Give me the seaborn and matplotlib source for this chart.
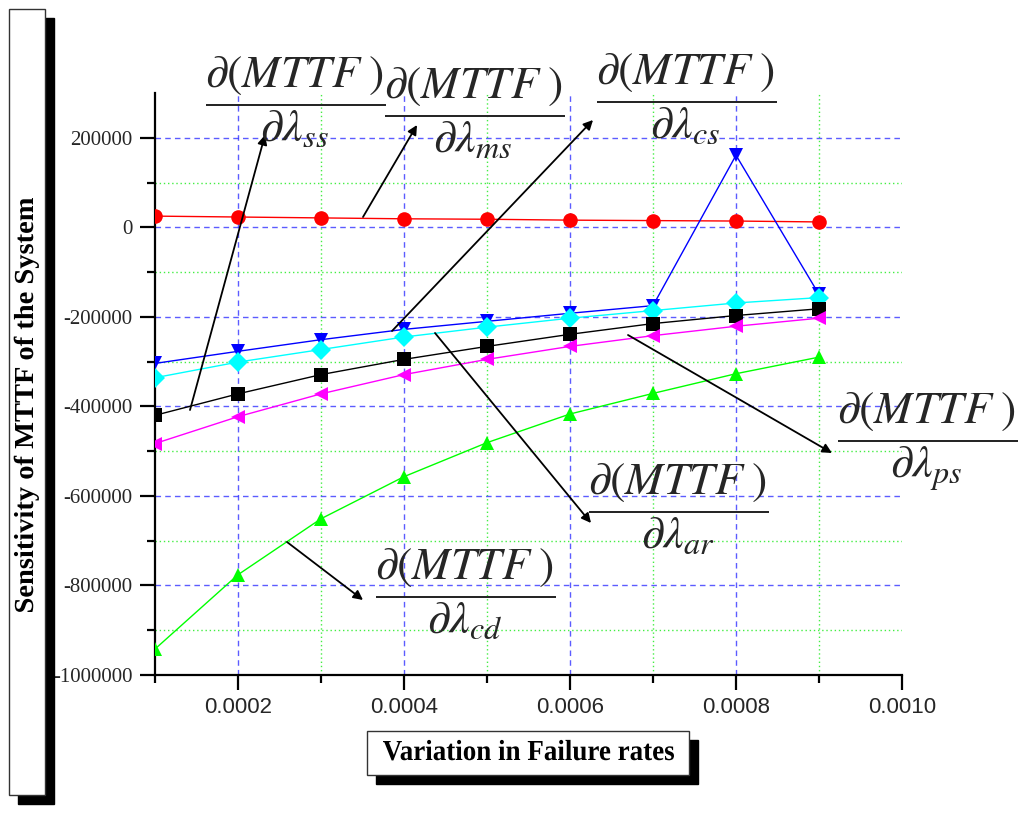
import numpy as np
import pandas as pd
import seaborn as sns
import matplotlib
matplotlib.use("Agg")
import matplotlib.pyplot as plt
from matplotlib.ticker import FixedLocator, FuncFormatter
from matplotlib.textpath import TextPath
from matplotlib.font_manager import FontProperties
from matplotlib.patches import PathPatch, Rectangle
from matplotlib.transforms import Affine2D

# failure rate values on the x axis
rates = [0.0001, 0.0002, 0.0003, 0.0004, 0.0005, 0.0006, 0.0007, 0.0008, 0.0009]

# sensitivity of MTTF for each component
sens_ms = [25000, 23000, 21000, 19000, 18000, 16000, 15000, 14000, 12000]
sens_cs = [-304000, -277000, -251000, -228000, -210000, -192000, -175000, 161000, -150000]
sens_ar = [-336000, -301000, -273000, -245000, -223000, -203000, -186000, -169000, -157000]
sens_ss = [-420000, -372000, -329000, -295000, -266000, -239000, -215000, -197000, -182000]
sens_ps = [-483000, -423000, -372000, -329000, -295000, -266000, -242000, -221000, -203000]
sens_cd = [-942000, -776000, -651000, -557000, -481000, -417000, -371000, -327000, -290000]

series = {"ms": sens_ms, "cs": sens_cs, "ar": sens_ar,
          "ss": sens_ss, "ps": sens_ps, "cd": sens_cd}
colors = {"ms": "#ff0000", "cs": "#0000ff", "ar": "#00ffff",
          "ss": "#000000", "ps": "#ff00ff", "cd": "#00ff00"}
markers = {"ms": "o", "cs": "v", "ar": "D", "ss": "s", "ps": "<", "cd": "^"}

x_ticks = [0.0002, 0.0004, 0.0006, 0.0008, 0.0010]
y_ticks = [-1000000, -800000, -600000, -400000, -200000, 0, 200000]

rows = []
for name, vals in series.items():
    for r, v in zip(rates, vals):
        rows.append({"rate": r, "sens": v, "comp": name})
df = pd.DataFrame(rows)

sns.set_style("white")
plt.rcParams["mathtext.fontset"] = "stix"
W, H, DPI = 1025, 814, 100
fig = plt.figure(figsize=(W / DPI, H / DPI), dpi=DPI)
pix = Affine2D().scale(1 / DPI) + fig.dpi_scale_trans


def box(x0, y0, x1, y1, shadow=9):
    # y given in image coords (top = 0)
    fig.add_artist(Rectangle((x0 + shadow, H - y1 - shadow), x1 - x0, y1 - y0,
                             facecolor="black", edgecolor="black", transform=pix))
    fig.add_artist(Rectangle((x0, H - y1), x1 - x0, y1 - y0, facecolor="white",
                             edgecolor="#333333", lw=1, transform=pix))


def squeezed(s, x, y_img, length, cap, rotate=False):
    fp = FontProperties(family="Liberation Serif", weight="bold")
    tp = TextPath((0, 0), s, size=100, prop=fp)
    ext = tp.get_extents()
    cap_h = TextPath((0, 0), "H", size=100, prop=fp).get_extents().y1
    tr = Affine2D().translate(-ext.x0, 0).scale(length / ext.width, cap / cap_h)
    if rotate:
        tr = tr.rotate_deg(90)
    tr = tr.translate(x, H - y_img)
    fig.add_artist(PathPatch(tp, facecolor="black", edgecolor="none", transform=tr + pix))


ax = fig.add_axes([155 / W, (H - 675) / H, (902 - 155) / W, (675 - 93) / H])

# grid
for v in [0.0002, 0.0004, 0.0006, 0.0008]:
    ax.axvline(v, color="#3333ff", ls=(0, (4, 3)), lw=1, alpha=0.8, zorder=0)
for v in [0.0003, 0.0005, 0.0007, 0.0009]:
    ax.axvline(v, color="#44ee44", ls=(0, (1, 2)), lw=1, zorder=0)
for v in [-800000, -600000, -400000, -200000, 0, 200000]:
    ax.axhline(v, color="#3333ff", ls=(0, (4, 3)), lw=1, alpha=0.8, zorder=0)
for v in [-900000, -700000, -500000, -300000, -100000, 100000]:
    ax.axhline(v, color="#44ee44", ls=(0, (1, 2)), lw=1, zorder=0)

sns.lineplot(data=df, x="rate", y="sens", hue="comp", style="comp",
             palette=colors, markers=markers, dashes=False, legend=False,
             lw=1, markersize=10.5, markeredgewidth=0, ax=ax, zorder=3)

ax.set_xlim(0.0001, 0.0010)
ax.set_ylim(-1000000, 300000)
ax.set_xlabel("")
ax.set_ylabel("")
for side in ["top", "right"]:
    ax.spines[side].set_visible(False)
for side in ["left", "bottom"]:
    ax.spines[side].set_linewidth(1.6)
    ax.spines[side].set_color("black")

ax.xaxis.set_major_locator(FixedLocator(x_ticks))
ax.xaxis.set_minor_locator(FixedLocator([0.0001, 0.0003, 0.0005, 0.0007, 0.0009]))
ax.yaxis.set_major_locator(FixedLocator(y_ticks))
ax.yaxis.set_minor_locator(FixedLocator([-900000, -700000, -500000, -300000, -100000, 100000]))
ax.xaxis.set_major_formatter(FuncFormatter(lambda v, p: f"{v:.4f}"))
ax.yaxis.set_major_formatter(FuncFormatter(lambda v, p: str(int(round(v)))))
ax.tick_params(which="both", bottom=True, left=True, direction="out",
               width=1.6, color="black")
ax.tick_params(which="major", length=11)
ax.tick_params(which="minor", length=6)
ax.tick_params(axis="x", which="major", pad=5, labelsize=16,
               labelfontfamily="Liberation Sans")
ax.tick_params(axis="y", which="major", pad=5, labelsize=15,
               labelfontfamily="Liberation Serif")

# axis titles in shadowed boxes
box(9, 9, 45, 795)
squeezed("Sensitivity of MTTF of the System", 33, 612, 414, 18, rotate=True)
box(367, 731, 689, 775)
squeezed("Variation in Failure rates", 383, 760, 291, 19)

# derivative labels with arrows
labels = [
    ("ss", (295, 105), (190, 410), (265, 135)),
    ("ms", (474, 116), (363, 217), (417, 125)),
    ("cs", (686, 102), (392, 331), (593, 120)),
    ("ps", (927, 443), (628, 335), (832, 453)),
    ("ar", (678, 512), (435, 333), (591, 523)),
    ("cd", (465, 597), (287, 542), (363, 600)),
]
for sub, (tx, ty), tail, tip in labels:
    fig.text(tx / W, (H - ty - 7) / H,
             r"$\dfrac{\partial(MTTF\;)}{\partial\lambda_{" + sub + r"}}$",
             ha="center", va="baseline", fontsize=33)
    ax.annotate("", xy=(tip[0], H - tip[1]), xycoords="figure pixels",
                xytext=(tail[0], H - tail[1]), textcoords="figure pixels",
                arrowprops=dict(arrowstyle="-|>", color="black", lw=1.3,
                                mutation_scale=14, shrinkA=0, shrinkB=0),
                annotation_clip=False)

fig.savefig("out.png", dpi=DPI)
